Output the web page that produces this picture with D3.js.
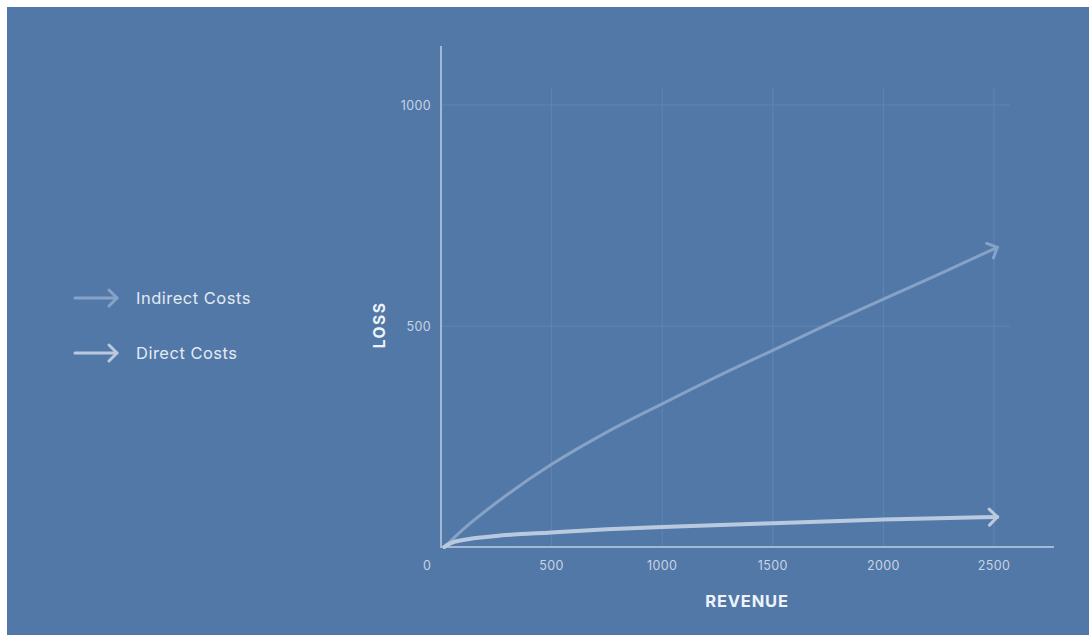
<!DOCTYPE html>
<html>
<head>
<meta charset="utf-8">
<script src="https://cdn.jsdelivr.net/npm/d3@7"></script>
<style>
  html, body { margin: 0; padding: 0; background: #ffffff; }
  svg { display: block; }
  text { font-family: "Inter", "Noto Sans", sans-serif; }
</style>
</head>
<body>
<svg id="chart" width="1089" height="635"></svg>
<script>
// Revenue values sampled along each cost curve
const indirectRevenue = [15, 100, 250, 500, 750, 1000, 1250, 1500, 1750, 2000, 2250, 2515];
const indirectLoss    = [0, 40, 100, 187, 260, 324, 386, 445, 504, 561, 617, 678];
const directRevenue   = [15, 30, 50, 100, 250, 500, 750, 1000, 1500, 2000, 2515];
const directLoss      = [0, 5, 10, 16, 25, 33, 40, 45, 54, 62, 68];

const xTicks = [500, 1000, 1500, 2000, 2500];
const yTicks = [500, 1000];
const legendLabels = ["Indirect Costs", "Direct Costs"];

const svg = d3.select("#chart");

svg.append("rect")
  .attr("x", 7).attr("y", 7)
  .attr("width", 1082).attr("height", 628)
  .attr("fill", "#5278a7");

const x = d3.scaleLinear().domain([0, 2500]).range([441, 994]);
const y = d3.scaleLinear().domain([0, 1000]).range([547, 105]);

const defs = svg.append("defs");
function arrowMarker(id, color) {
  defs.append("marker")
    .attr("id", id)
    .attr("markerUnits", "userSpaceOnUse")
    .attr("viewBox", "-12 -12 24 24")
    .attr("markerWidth", 24).attr("markerHeight", 24)
    .attr("refX", 0).attr("refY", 0)
    .attr("orient", "auto")
    .append("path")
    .attr("d", "M-8,-8 L0,0 L-8,8")
    .attr("fill", "none")
    .attr("stroke", color)
    .attr("stroke-width", 3)
    .attr("stroke-linecap", "round")
    .attr("stroke-linejoin", "round");
}
const indirectColor = "#86a2c7";
const directColor = "#b9cadf";
arrowMarker("arrow-indirect", indirectColor);
arrowMarker("arrow-direct", directColor);

// Grid
const grid = svg.append("g").attr("stroke", "#5f85b3").attr("stroke-width", 1);
grid.selectAll("line.v").data(xTicks).join("line")
  .attr("x1", d => x(d)).attr("x2", d => x(d))
  .attr("y1", 88).attr("y2", 547);
grid.selectAll("line.h").data(yTicks).join("line")
  .attr("x1", 441).attr("x2", 1010)
  .attr("y1", d => y(d)).attr("y2", d => y(d));

// Axis lines
svg.append("line")
  .attr("x1", 441).attr("x2", 441).attr("y1", 46).attr("y2", 548)
  .attr("stroke", "#a3b8d3").attr("stroke-width", 2);
svg.append("line")
  .attr("x1", 440).attr("x2", 1054).attr("y1", 547).attr("y2", 547)
  .attr("stroke", "#a3b8d3").attr("stroke-width", 2);

// Tick labels
const tickColor = "#c7d4e5";
svg.append("g").selectAll("text").data(xTicks).join("text")
  .attr("x", d => x(d)).attr("y", 569.5)
  .attr("text-anchor", "middle")
  .attr("font-size", 12.5).attr("letter-spacing", 0.4)
  .attr("fill", tickColor)
  .text(d => d);
svg.append("text")
  .attr("x", 427).attr("y", 569.5)
  .attr("text-anchor", "middle")
  .attr("font-size", 12.5).attr("fill", tickColor)
  .text("0");
svg.append("g").selectAll("text").data(yTicks).join("text")
  .attr("x", 431).attr("y", d => y(d) + 4.5)
  .attr("text-anchor", "end")
  .attr("font-size", 12.5).attr("letter-spacing", 0.4)
  .attr("fill", tickColor)
  .text(d => d);

// Axis titles
svg.append("text")
  .attr("x", 747).attr("y", 607)
  .attr("text-anchor", "middle")
  .attr("font-size", 16.5).attr("font-weight", 700)
  .attr("letter-spacing", 0.8)
  .attr("fill", "#eef3f9")
  .text("REVENUE");
svg.append("text")
  .attr("transform", "translate(385,325) rotate(-90)")
  .attr("text-anchor", "middle")
  .attr("font-size", 15.5).attr("font-weight", 700)
  .attr("letter-spacing", 1.5)
  .attr("fill", "#eef3f9")
  .text("LOSS");

// Curves
const line = d3.line()
  .x(d => x(d[0])).y(d => y(d[1]))
  .curve(d3.curveMonotoneX);

const indirect = indirectRevenue.map((r, i) => [r, indirectLoss[i]]);
const direct = directRevenue.map((r, i) => [r, directLoss[i]]);

svg.append("path")
  .attr("d", line(indirect))
  .attr("fill", "none")
  .attr("stroke", indirectColor)
  .attr("stroke-width", 3)
  .attr("stroke-linecap", "round")
  .attr("marker-end", "url(#arrow-indirect)");

svg.append("path")
  .attr("d", line(direct))
  .attr("fill", "none")
  .attr("stroke", directColor)
  .attr("stroke-width", 4)
  .attr("stroke-linecap", "round")
  .attr("marker-end", "url(#arrow-direct)");

// Legend
const legend = svg.append("g");
const legendY = [298, 353];
const legendColors = [indirectColor, directColor];
const legendMarkers = ["arrow-indirect", "arrow-direct"];
legendLabels.forEach((label, i) => {
  legend.append("line")
    .attr("x1", 75).attr("x2", 117)
    .attr("y1", legendY[i]).attr("y2", legendY[i])
    .attr("stroke", legendColors[i])
    .attr("stroke-width", 3)
    .attr("stroke-linecap", "round")
    .attr("marker-end", `url(#${legendMarkers[i]})`);
  legend.append("text")
    .attr("x", 136).attr("y", legendY[i] + 6)
    .attr("font-size", 16.5)
    .attr("letter-spacing", 0.5)
    .attr("fill", "#e2eaf3")
    .text(label);
});
</script>
</body>
</html>
